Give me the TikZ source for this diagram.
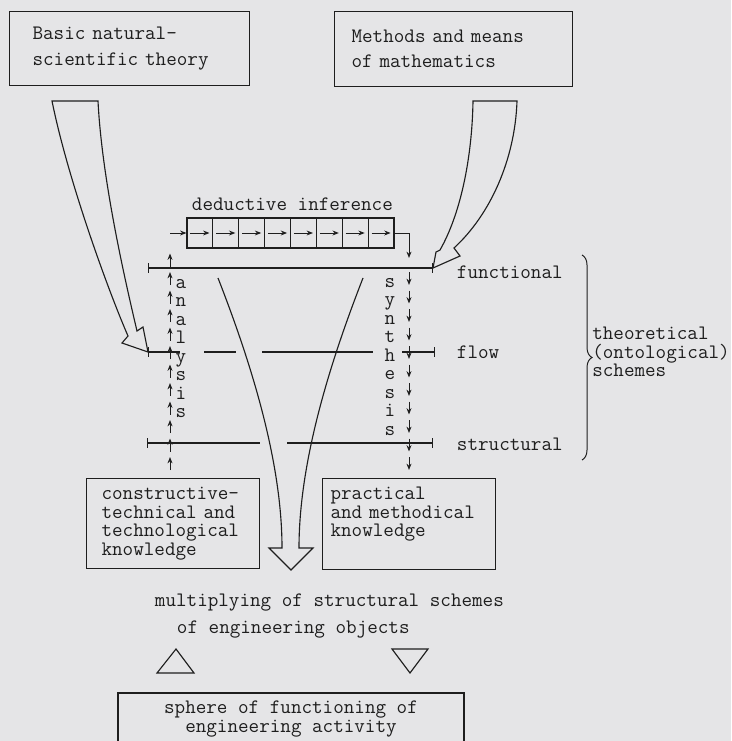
\documentclass[tikz,border=0pt]{standalone}
\usepackage{fontspec}
\usetikzlibrary{arrows.meta,decorations.pathreplacing}
\definecolor{paper}{RGB}{229,229,231}
\definecolor{ink}{RGB}{30,30,30}
\tikzset{
	box/.style={draw=ink, line width=0.8pt, align=left, inner ysep=0pt},
	cell/.style={draw=ink, line width=0.8pt, minimum width=0.647cm, minimum height=0.75cm, inner sep=0pt},
	tiny/.style={-{Stealth[length=4.5pt,width=3.5pt]}, line width=0.7pt},
	level/.style={line width=0.8pt},
	hollow/.style={draw=ink, line width=0.8pt, line join=miter},
	letter/.style={inner sep=0pt, anchor=base}
}

\begin{document}
\begin{tikzpicture}[x=0.025cm, y=-0.025cm, ink, every node/.style={font=\ttfamily\fontsize{14.6}{13.2}\selectfont, text=ink}]
	\useasboundingbox (0,0) rectangle (731,741);
	\fill[paper] (0,0) rectangle (731,741);
	\clip (0,0) rectangle (731,741);
	\node[box, anchor=north west, minimum height=1.85cm, text width=4.85cm, inner xsep=0.575cm, font=\ttfamily\fontsize{14.6}{17.8}\selectfont] (theory) at (9,11) {Basic natural-\\scientific theory};
	\node[box, anchor=north west, minimum height=1.875cm, text width=5.1cm, inner xsep=0.425cm, font=\ttfamily\fontsize{14.6}{17.8}\selectfont] (maths) at (334,11) {Methods and means\\of mathematics};
	\node[anchor=base west] (ded) at (187,210) {deductive inference};
	\foreach \i in {0,...,7} {
		\node[cell] (d\i) at ({199.94+25.875*\i},233) {};
		\draw[tiny] ([xshift=0.1cm]d\i.west) -- ([xshift=-0.1cm]d\i.east);
	}
	\coordinate (funcL) at (148,268);
	\coordinate (funcR) at (433,268);
	\coordinate (flowL) at (148,352);
	\coordinate (flowR) at (435,352);
	\coordinate (strL) at (147,443);
	\coordinate (strR) at (433,443);
	\draw[level, {Bar[width=7pt]}-{Bar[width=7pt]}] (funcL) -- (funcR);
	\draw[level, {Bar[width=7pt]}-] (flowL) -- (180,352);
	\draw[level] (204,352) -- (236,352) (262,352) -- (373,352);
	\draw[level, -{Bar[width=7pt]}] (402,352) -- (flowR);
	\draw[level, {Bar[width=7pt]}-] (strL) -- (260,443);
	\draw[level, -{Bar[width=7pt]}] (287,443) -- (strR);
	\node[anchor=base west] (func) at (452,278) {functional};
	\node[anchor=base west] (flow) at (452,358) {flow};
	\node[anchor=base west] (struct) at (452,450) {structural};
	\draw[decorate, decoration={brace, amplitude=0.25cm}, line width=0.7pt] (582,255) -- (582,460);
	\node[anchor=west, align=left, inner xsep=0pt] (theo) at (592,352) {theoretical\\(ontological)\\schemes};
	\foreach \c [count=\n from 0] in {a,n,a,l,y,s,i,s}
		\node[letter] (an\n) at (181,{288+18.5*\n}) {\c};
	\foreach \c [count=\n from 0] in {s,y,n,t,h,e,s,i,s}
		\node[letter] (sy\n) at (390,{287+18.5*\n}) {\c};
	\foreach \k in {0,...,11}
		\draw[tiny] (170,{470-18.5*\k}) -- (170,{457-18.5*\k});
	\foreach \k in {0,...,10}
		\draw[tiny] (409,{272+18.5*\k}) -- (409,{285+18.5*\k});
	\draw[tiny] (170,233) -- (d0.west);
	\draw[tiny] (d7.east) -- (409,233) -- (409,258);
	\draw[hollow] (52,101) .. controls (68,180) and (108,290) .. (128,336) -- (122,343) -- (flowL) -- (143,327) -- (137,331) .. controls (125,280) and (102,180) .. (98,101) -- cycle;
	\draw[hollow] (473,101) .. controls (472,160) and (460,215) .. (440,250) -- (436,252) -- (funcR) -- (460,256) -- (454,248) .. controls (490,215) and (515,160) .. (517,101) -- cycle;
	\draw[hollow] (218,278) .. controls (250,360) and (282,460) .. (282,548) -- (269,548) -- (291,570) -- (313,548) -- (299,548) .. controls (299,460) and (331,360) .. (363,278);
	\node[box, anchor=north west, minimum height=2.25cm, text width=3.575cm, inner xsep=0.375cm] (constr) at (86,478) {constructive-\\technical and\\technological\\knowledge};
	\node[box, anchor=north west, minimum height=2.275cm, text width=3.925cm, inner xsep=0.2cm] (pract) at (322,478) {practical\\and methodical\\knowledge\\\strut};
	\node[anchor=base west] (mult) at (150,606) {multiplying of structural schemes};
	\node[anchor=base west] (objects) at (172,633) {of engineering objects};
	\draw[hollow] (157,673) -- (194,673) -- (176,649) -- cycle;
	\draw[hollow] (392,649) -- (428,649) -- (410,673) -- cycle;
	\node[box, align=center, minimum width=8.65cm, minimum height=1.3cm, font=\ttfamily\fontsize{14.6}{13.6}\selectfont] (sphere) at (291,719) {sphere of functioning of\\engineering activity};
\end{tikzpicture}
\end{document}
